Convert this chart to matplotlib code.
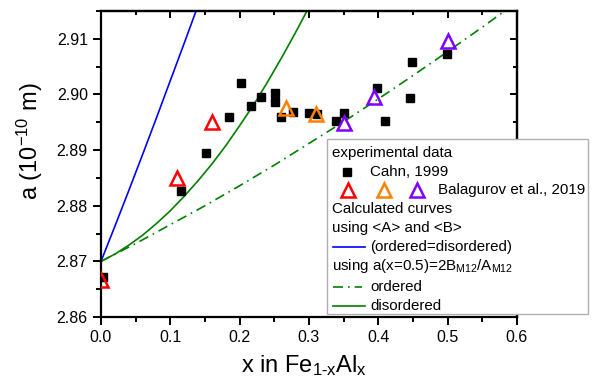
import matplotlib
matplotlib.use("Agg")
import matplotlib.pyplot as plt
from matplotlib.lines import Line2D
from matplotlib.patches import Rectangle
from matplotlib.ticker import MultipleLocator, FormatStrFormatter

plt.rcParams["font.family"] = ["Liberation Sans", "DejaVu Sans"]
plt.rcParams["mathtext.fontset"] = "custom"
plt.rcParams["mathtext.rm"] = "Liberation Sans"
plt.rcParams["mathtext.it"] = "Liberation Sans"
plt.rcParams["mathtext.default"] = "regular"

# Cahn, 1999
cahn_x = [0.003, 0.115, 0.152, 0.185, 0.2025, 0.2165, 0.231, 0.2515, 0.2515, 0.260,
          0.277, 0.300, 0.312, 0.3395, 0.351, 0.398, 0.410, 0.446, 0.449, 0.499]
cahn_y = [2.8672, 2.8826, 2.8894, 2.8959, 2.9021, 2.8979, 2.8996, 2.9003, 2.8987, 2.8959,
          2.8969, 2.8966, 2.8964, 2.8953, 2.8966, 2.9011, 2.8953, 2.8993, 2.9059, 2.9073]

# Balagurov et al., 2019 (three groups)
bal_red_x = [0.0, 0.109, 0.160]
bal_red_y = [2.8666, 2.8850, 2.8950]
bal_orange_x = [0.267, 0.310]
bal_orange_y = [2.8975, 2.8964]
bal_purple_x = [0.351, 0.394, 0.500]
bal_purple_y = [2.8949, 2.8996, 2.9096]

# calculated curves
same_x = [0.0, 0.02, 0.04, 0.06, 0.08, 0.10, 0.12, 0.14]
same_y = [2.8700, 2.8763, 2.8827, 2.8892, 2.8958, 2.9025, 2.9092, 2.9160]
dis_x = [0.0, 0.02, 0.04, 0.06, 0.08, 0.10, 0.12, 0.14, 0.16, 0.18,
         0.20, 0.22, 0.24, 0.26, 0.28, 0.30]
dis_y = [2.8700, 2.8713, 2.8729, 2.8747, 2.8768, 2.8791, 2.8817, 2.8845, 2.8875, 2.8908,
         2.8944, 2.8981, 2.9022, 2.9065, 2.9110, 2.9157]
ord_x = [0.0, 0.05, 0.10, 0.15, 0.20, 0.25, 0.30, 0.35, 0.40, 0.45, 0.50, 0.55, 0.60]
ord_y = [2.8700, 2.8732, 2.8766, 2.8800, 2.8836, 2.8873, 2.8912, 2.8951, 2.8992, 2.9034,
         2.9077, 2.9121, 2.9166]

green = "#008000"
blue = "#0000ff"
red = "#ff0000"
orange = "#ff8000"
purple = "#8000ff"
dashdot = (0, (6, 3, 1, 3))

fig = plt.figure(figsize=(5.96, 3.84), dpi=100)
ax = fig.add_axes([101 / 596, 1 - 317 / 384, 416 / 596, 306 / 384])

ax.plot(same_x, same_y, color=blue, lw=1.2)
ax.plot(dis_x, dis_y, color=green, lw=1.2)
ax.plot(ord_x, ord_y, color=green, lw=1.2, linestyle=dashdot)

ax.plot(cahn_x, cahn_y, "s", color="black", ms=5.5, ls="none", zorder=3)
tri = dict(marker="^", ms=10, mfc="none", mew=1.8, ls="none", zorder=4)
ax.plot(bal_red_x, bal_red_y, mec=red, **tri)
ax.plot(bal_orange_x, bal_orange_y, mec=orange, **tri)
ax.plot(bal_purple_x, bal_purple_y, mec=purple, **tri)

ax.set_xlim(0, 0.6)
ax.set_ylim(2.86, 2.915)
ax.xaxis.set_major_locator(MultipleLocator(0.1))
ax.xaxis.set_minor_locator(MultipleLocator(0.05))
ax.yaxis.set_major_locator(MultipleLocator(0.01))
ax.yaxis.set_minor_locator(MultipleLocator(0.005))
ax.xaxis.set_major_formatter(FormatStrFormatter("%.1f"))
ax.yaxis.set_major_formatter(FormatStrFormatter("%.2f"))

for s in ax.spines.values():
    s.set_linewidth(1.6)
ax.tick_params(which="both", direction="out", width=1.4, labelsize=11.5, top=False, right=False)
ax.tick_params(which="major", length=6)
ax.tick_params(which="minor", length=3.5)

# inward ticks on top and right
sec_x = ax.secondary_xaxis("top")
sec_x.xaxis.set_major_locator(MultipleLocator(0.1))
sec_x.xaxis.set_minor_locator(MultipleLocator(0.05))
sec_x.tick_params(which="both", direction="in", width=1.4, labeltop=False)
sec_x.tick_params(which="major", length=5)
sec_x.tick_params(which="minor", length=3)
sec_x.spines["top"].set_linewidth(1.6)
sec_y = ax.secondary_yaxis("right")
sec_y.yaxis.set_major_locator(MultipleLocator(0.01))
sec_y.yaxis.set_minor_locator(MultipleLocator(0.005))
sec_y.tick_params(which="both", direction="in", width=1.4, labelright=False)
sec_y.tick_params(which="major", length=5)
sec_y.tick_params(which="minor", length=3)
sec_y.spines["right"].set_linewidth(1.6)

W, H = 596.0, 384.0
def fx(px):
    return px / W
def fy(py):
    return 1 - py / H

fig.text(fx(304), fy(372), "x in Fe$_{1\u2011x}$Al$_x$", fontsize=17, ha="center", va="baseline")
fig.text(fx(30), fy(141), "a (10$^{-10}$ m)", fontsize=17, ha="center", va="center", rotation=90)

# hand-built legend box
box = Rectangle((fx(327), fy(314)), fx(588) - fx(327), fy(139) - fy(314),
                transform=fig.transFigure, facecolor="white", edgecolor="#b0b0b0",
                lw=1.0, zorder=10)
fig.patches.append(box)

fs = 10.9
def row_text(px, py, s):
    fig.text(fx(px), fy(py), s, fontsize=fs, va="center", ha="left", zorder=12)

def row_line(x0, x1, py, **kw):
    fig.add_artist(Line2D([fx(x0), fx(x1)], [fy(py), fy(py)], transform=fig.transFigure,
                          zorder=12, **kw))

row_text(332, 153.3, "experimental data")
fig.add_artist(Line2D([fx(346.7)], [fy(171.7)], marker="s", color="black", ms=5.5,
                      transform=fig.transFigure, zorder=12))
row_text(370, 171.7, "Cahn, 1999")
for px, c in [(348.3, red), (384, orange), (416.7, purple)]:
    fig.add_artist(Line2D([fx(px)], [fy(190)], marker="^", ms=10, mfc="none", mew=1.8,
                          mec=c, transform=fig.transFigure, zorder=12))
row_text(438, 190, "Balagurov et al., 2019")
row_text(332, 209.3, "Calculated curves")
row_text(332, 227.7, "using <A> and <B>")
row_line(333, 365, 246.7, color=blue, lw=1.2)
row_text(370, 246.7, "(ordered=disordered)")
row_text(332, 266, "using a(x=0.5)=2B$_{M12}$/A$_{M12}$")
row_line(333, 362, 286.7, color=green, lw=1.2, linestyle=dashdot)
row_text(370, 286.7, "ordered")
row_line(333, 365, 305.7, color=green, lw=1.2)
row_text(370, 305.7, "disordered")

fig.savefig("out.png", dpi=100)
